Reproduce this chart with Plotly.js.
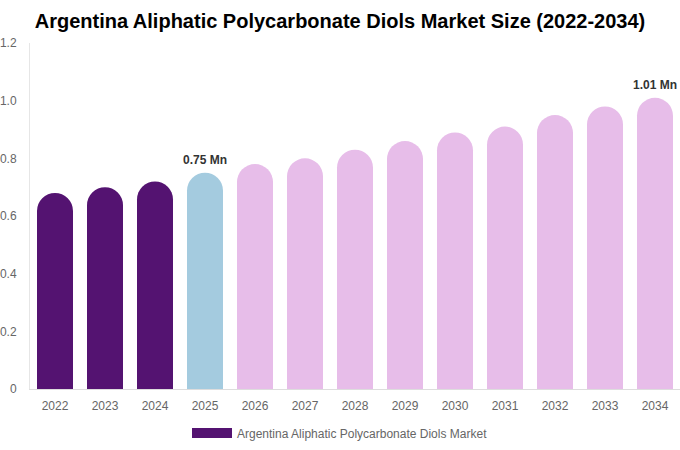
<!DOCTYPE html>
<html>
<head>
<meta charset="utf-8">
<script src="https://cdn.plot.ly/plotly-3.0.1.min.js"></script>
<style>
  html, body { margin: 0; padding: 0; background: #fff; }
  #chart { width: 680px; height: 450px; }
</style>
</head>
<body>
<div id="chart"></div>
<script>
// data
var years = ['2022', '2023', '2024', '2025', '2026', '2027', '2028', '2029', '2030', '2031', '2032', '2033', '2034'];
var market = [0.68, 0.70, 0.72, 0.75, 0.78, 0.80, 0.83, 0.86, 0.89, 0.91, 0.95, 0.98, 1.01];
var labelled = ['2025', '2034'];
var yTicks = [0, 0.2, 0.4, 0.6, 0.8, 1.0, 1.2];
var yTickText = ['0', '0.2', '0.4', '0.6', '0.8', '1.0', '1.2'];
var seriesName = 'Argentina Aliphatic Polycarbonate Diols Market';

// colours: history, base year, forecast
var histColor = '#541371',
    baseColor = '#a4cbdf',
    foreColor = '#e7bde9';

function bar_color(y) {
	if (y < '2025') return histColor
	if (y === '2025') return baseColor
	return foreColor
}

var bars = {
	x: years,
	y: market,
	type: 'bar',
	name: seriesName,
	marker: {color: years.map(bar_color), cornerradius: '50%'},
	hoverinfo: 'x+y',
	showlegend: false
};

// legend entry only (wide flat swatch like the reference), draws nothing
var legendKey = {
	x: [years[0]],
	y: [null],
	type: 'scatter',
	mode: 'lines',
	name: seriesName,
	line: {color: histColor, width: 12},
	hoverinfo: 'skip',
	showlegend: true
};

// value labels above the marked bars (x given as category index)
var annotations = labelled.map(function(y) {
	var i = years.indexOf(y);
	return {
		x: i,
		y: market[i],
		xref: 'x',
		yref: 'y',
		text: '<b>' + market[i].toFixed(2) + ' Mn</b>',
		showarrow: false,
		yanchor: 'bottom',
		yshift: 4,
		font: {size: 12, color: '#333'}
	};
});

var layout = {
	width: 680,
	height: 450,
	paper_bgcolor: '#fff',
	plot_bgcolor: '#fff',
	font: {family: 'Liberation Sans, Arial, sans-serif', size: 12, color: '#666'},
	title: {
		text: '<b>Argentina Aliphatic Polycarbonate Diols Market Size (2022-2034)</b>',
		font: {size: 20, color: '#000'},
		x: 0.5,
		xanchor: 'center',
		y: 0.953,
		yanchor: 'middle'
	},
	annotations: annotations,
	margin: {l: 30, r: 0, t: 43, b: 61},
	bargap: 0.28,
	xaxis: {
		type: 'category',
		categoryorder: 'array',
		categoryarray: years,
		range: [-0.5, years.length - 0.5],
		showgrid: false,
		showline: true,
		linecolor: '#ddd',
		linewidth: 1,
		ticks: '',
		ticklabelstandoff: 6,
		tickfont: {size: 12, color: '#666'}
	},
	yaxis: {
		range: [0, 1.2],
		tickvals: yTicks,
		ticktext: yTickText,
		showgrid: false,
		zeroline: false,
		showline: true,
		linecolor: '#e6e6e6',
		linewidth: 1,
		ticks: '',
		ticklabelstandoff: 10,
		tickfont: {size: 12, color: '#666'}
	},
	showlegend: true,
	legend: {
		orientation: 'h',
		x: 0.5,
		xanchor: 'center',
		xref: 'container',
		yref: 'container',
		y: 0.038,
		yanchor: 'middle',
		itemwidth: 40,
		font: {size: 12, color: '#666'}
	}
};

Plotly.newPlot('chart', [bars, legendKey], layout, {displayModeBar: false, staticPlot: true});
</script>
</body>
</html>
